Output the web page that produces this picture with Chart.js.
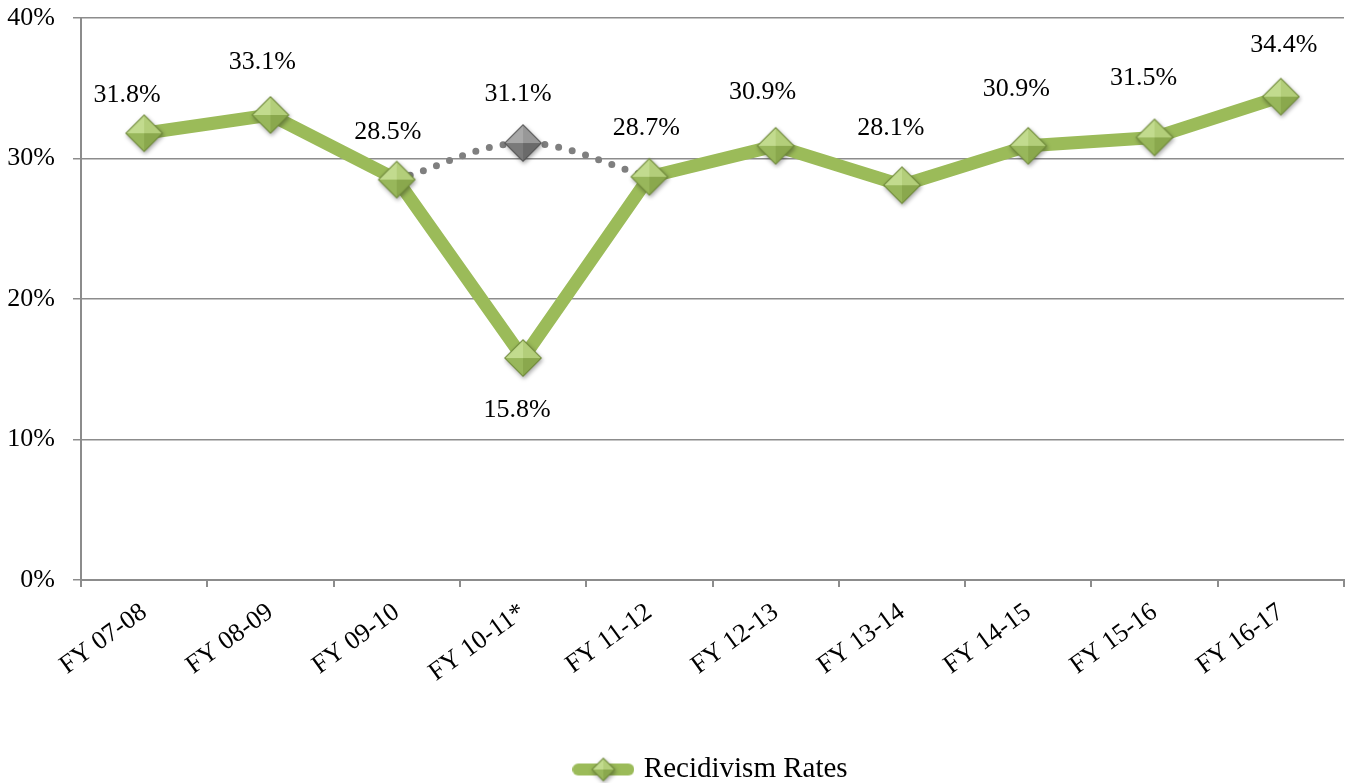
<!DOCTYPE html>
<html lang="en">

<head>
    <meta charset="UTF-8">
    <title>Recidivism Rates</title>
    <script src="https://cdn.jsdelivr.net/npm/chart.js"></script>
    <style>
        body { margin: 0; background: #fff; }
        canvas { display: block; }
    </style>
</head>

<body>

    <canvas id="rateChart" width="1346" height="783"></canvas>

    <script>

        // fiscal years on the x axis
        const years = ['FY 07-08', 'FY 08-09', 'FY 09-10', 'FY 10-11*', 'FY 11-12',
                       'FY 12-13', 'FY 13-14', 'FY 14-15', 'FY 15-16', 'FY 16-17'];

        // reported recidivism rate (%)
        const rates = [31.8, 33.1, 28.5, 15.8, 28.7, 30.9, 28.1, 30.9, 31.5, 34.4];

        // adjusted FY 10-11 figure, joined to its neighbours by a dotted line
        const adjusted = [null, null, 28.5, 31.1, 28.7, null, null, null, null, null];

        const yTicks = [0, 10, 20, 30, 40];

        // nudges for the value labels (dx, dy) so they sit clear of the line
        const rateLabelDy = [-38, -53, -47, 52, -49, -54, -57, -57, -59, -52];
        const rateLabelDx = [-17, -8, -9, -6, -3, -13, -11, -12, -11, 3];

        const FONT = "'Liberation Serif', 'Times New Roman', serif";
        const FONT_SIZE = 26;

        // beveled diamond marker drawn once to an offscreen canvas
        function makeDiamond(r, shades) {
            const pad = 7;
            const c = document.createElement('canvas');
            c.width = c.height = 2 * r + 2 * pad;
            const g = c.getContext('2d');
            const cx = r + pad, cy = r + pad;
            const pts = [[cx, cy - r], [cx + r, cy], [cx, cy + r], [cx - r, cy]];

            g.save();
            g.shadowColor = 'rgba(0,0,0,0.35)';
            g.shadowBlur = 4;
            g.shadowOffsetX = 1;
            g.shadowOffsetY = 2;
            g.beginPath();
            pts.forEach((p, i) => i ? g.lineTo(p[0], p[1]) : g.moveTo(p[0], p[1]));
            g.closePath();
            g.fillStyle = shades.edge;
            g.fill();
            g.restore();

            // four facets: top-left, top-right, bottom-right, bottom-left
            const facets = [[3, 0, shades.tl], [0, 1, shades.tr], [1, 2, shades.br], [2, 3, shades.bl]];
            const k = (r - 1.5) / r;
            facets.forEach(([a, b, col]) => {
                const pa = pts[a], pb = pts[b];
                g.beginPath();
                g.moveTo(cx, cy);
                g.lineTo(cx + (pa[0] - cx) * k, cy + (pa[1] - cy) * k);
                g.lineTo(cx + (pb[0] - cx) * k, cy + (pb[1] - cy) * k);
                g.closePath();
                g.fillStyle = col;
                g.fill();
            });
            return c;
        }

        const greenShades = { edge: '#6f8a3a', tl: '#c2db8e', tr: '#b3ce7a', br: '#8aa84d', bl: '#98b75b' };
        const grayShades = { edge: '#555555', tl: '#a9a9a9', tr: '#989898', br: '#6a6a6a', bl: '#7a7a7a' };

        const greenDiamond = makeDiamond(19, greenShades);
        const grayDiamond = makeDiamond(19, grayShades);

        // legend swatch: thick line with a small diamond in the middle
        function makeLegendMark() {
            const c = document.createElement('canvas');
            c.width = 62;
            c.height = 30;
            const g = c.getContext('2d');
            g.strokeStyle = '#9bbb59';
            g.lineWidth = 12;
            g.lineCap = 'round';
            g.beginPath();
            g.moveTo(6, 15);
            g.lineTo(56, 15);
            g.stroke();
            const d = makeDiamond(12, greenShades);
            g.drawImage(d, 31 - d.width / 2, 15 - d.height / 2);
            return c;
        }
        const legendMark = makeLegendMark();

        // value labels for the points
        const valueLabels = {
            id: 'valueLabels',
            afterDatasetsDraw(chart) {
                const ctx = chart.ctx;
                ctx.save();
                ctx.font = FONT_SIZE + 'px ' + FONT;
                ctx.fillStyle = '#000';
                ctx.textAlign = 'center';
                ctx.textBaseline = 'middle';

                chart.getDatasetMeta(0).data.forEach((pt, i) => {
                    ctx.fillText(rates[i].toFixed(1) + '%', pt.x + rateLabelDx[i], pt.y + rateLabelDy[i]);
                });

                const adjPt = chart.getDatasetMeta(1).data[3];
                ctx.fillText(adjusted[3].toFixed(1) + '%', adjPt.x - 5, adjPt.y - 49);
                ctx.restore();
            }
        };

        // push the legend row a little lower, nearer the bottom edge
        const legendNudge = {
            id: 'legendNudge',
            afterLayout(chart) {
                chart.legend.top += 11;
                chart.legend.bottom += 11;
            }
        };

        const ctx = document.getElementById('rateChart').getContext('2d');

        const chart = new Chart(ctx, {
            type: 'line',
            data: {
                labels: years,
                datasets: [{
                    label: 'Recidivism Rates',
                    data: rates,
                    borderColor: '#9bbb59',
                    borderWidth: 13,
                    borderJoinStyle: 'round',
                    pointStyle: greenDiamond,
                    pointRadius: 19,
                    pointHoverRadius: 19,
                    fill: false,
                    tension: 0
                }, {
                    label: 'Adjusted',
                    data: adjusted,
                    borderColor: '#7f7f7f',
                    borderWidth: 7,
                    borderDash: [0, 14],
                    borderCapStyle: 'round',
                    pointStyle: grayDiamond,
                    pointRadius: (c) => c.dataIndex === 3 ? 19 : 0,
                    pointHoverRadius: (c) => c.dataIndex === 3 ? 19 : 0,
                    fill: false,
                    tension: 0.35
                }]
            },
            options: {
                responsive: false,
                animation: false,
                layout: {
                    autoPadding: false,
                    padding: { top: 18, right: 2, left: 0, bottom: 0 }
                },
                scales: {
                    x: {
                        offset: true,
                        grid: {
                            offset: true,
                            drawOnChartArea: false,
                            drawTicks: true,
                            tickLength: 7,
                            color: '#8c8c8c',
                            lineWidth: 2
                        },
                        border: { color: '#8c8c8c', width: 2 },
                        ticks: {
                            font: { family: FONT, size: FONT_SIZE },
                            color: '#000',
                            minRotation: 36,
                            maxRotation: 36,
                            padding: 10
                        },
                        afterFit(scale) { scale.height = 162; }
                    },
                    y: {
                        min: 0,
                        max: 40,
                        afterBuildTicks(scale) {
                            scale.ticks = yTicks.map(v => ({ value: v }));
                        },
                        grid: {
                            color: '#8c8c8c',
                            lineWidth: 1.5,
                            tickLength: 8
                        },
                        border: { color: '#8c8c8c', width: 2 },
                        ticks: {
                            font: { family: FONT, size: FONT_SIZE },
                            color: '#000',
                            padding: 18,
                            callback: (v) => v + '%'
                        },
                        afterFit(scale) {
                            scale.width = 81;
                            // the label gap shouldn't push the plot top down
                            scale.paddingTop = 0;
                            if (scale._margins) scale._margins.top = 0;
                        }
                    }
                },
                plugins: {
                    tooltip: { enabled: false },
                    legend: {
                        position: 'bottom',
                        fullSize: false,
                        labels: {
                            usePointStyle: true,
                            pointStyleWidth: 52,
                            padding: 2,
                            color: '#000',
                            font: { family: FONT, size: 29 },
                            generateLabels: () => [{
                                text: 'Recidivism Rates',
                                pointStyle: legendMark,
                                fillStyle: '#9bbb59',
                                strokeStyle: '#9bbb59',
                                lineWidth: 0,
                                hidden: false,
                                datasetIndex: 0
                            }]
                        }
                    }
                }
            },
            plugins: [valueLabels, legendNudge]
        });

    </script>

</body>

</html>
